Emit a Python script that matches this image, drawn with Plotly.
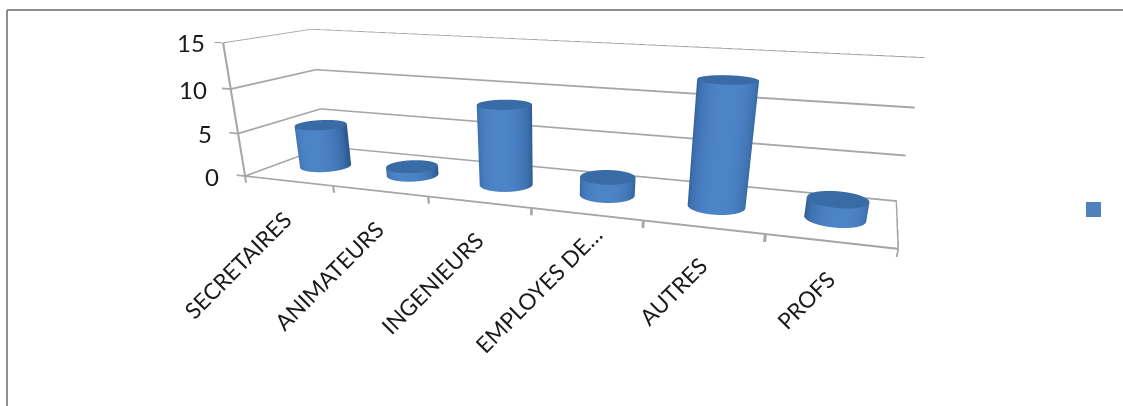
import numpy as np
import plotly.graph_objects as go

categories = ["SECRETAIRES", "ANIMATEURS", "INGENIEURS", "EMPLOYES DE…", "AUTRES", "PROFS"]
effectifs = [5, 1, 9, 2, 13, 2]
z_ticks = [0, 5, 10, 15]

GRID = "#a6a6a6"
BLUE_DARK, BLUE_LIGHT = "#2c5a90", "#4c84c8"
CAP_SHADE = 0.42
RADIUS_X, RADIUS_Y = 0.25, 0.19
DEPTH_CENTER = 0.46
FIG_W, FIG_H = 1123, 683

# Axis ranges leave a little room for the tick stubs outside the plot box.
x_range = [-0.15, 6.0]
y_range = [0.0, 1.0]
z_range = [-1.0, 15.0]

# Camera expressed for a unit-width box spanning x 0-6, y 0-1, z 0-15.
unit_eye = np.array([0.4246, -1.1898, 0.2484])
unit_center = np.array([-0.0174, 0.0726, -0.4062])
unit_up = (-0.2574, 0.7089, 1.0)
unit_aspect = np.array([1.0, 0.2261, 0.2057])
spans = np.array([6.0, 1.0, 15.0])
lo = np.array([x_range[0], y_range[0], z_range[0]])
hi = np.array([x_range[1], y_range[1], z_range[1]])
aspect = unit_aspect * (hi - lo) / spans
shift = ((lo + hi) / 2 / spans - 0.5) * unit_aspect
eye = unit_eye - shift
center = unit_center - shift

fig = go.Figure()
flat = dict(ambient=1.0, diffuse=0.0, specular=0.0, fresnel=0.0, roughness=1.0)


def stroke(start, end, offset):
    """Draw a thin flat strip between two points, widened along offset."""
    a, b, d = np.array(start, float), np.array(end, float), np.array(offset, float)
    pts = np.array([[a - d, b - d], [a + d, b + d]])
    fig.add_trace(go.Surface(
        x=pts[..., 0], y=pts[..., 1], z=pts[..., 2],
        surfacecolor=np.zeros((2, 2)), colorscale=[[0, GRID], [1, GRID]],
        showscale=False, lighting=flat, hoverinfo="skip"))


Z_W = (0, 0, 0.1)
X_W = (0.012, 0, 0)
# Gridlines on the left and back walls, with ticks on the value axis.
for z in z_ticks:
    stroke((-0.1, 0, z), (0, 0, z), Z_W)
    stroke((0, 0, z), (0, 1, z), Z_W)
    stroke((0, 1, z), (6, 1, z), Z_W)
# Value axis, floor edges and category ticks.
stroke((0, 0, 0), (0, 0, 15), X_W)
stroke((0, 0, 0), (6, 0, 0), Z_W)
stroke((6, 0, 0), (6, 1, 0), X_W)
for k in range(7):
    stroke((k, 0, -0.8), (k, 0, 0), X_W)

# One shaded cylinder per category.
theta = np.linspace(0, 2 * np.pi, 73)
radial = np.linspace(0, 1, 6)
colorscale = [[0, BLUE_DARK], [1, BLUE_LIGHT]]
for i, value in enumerate(effectifs):
    cx, cy = i + 0.5, DEPTH_CENTER
    T, H = np.meshgrid(theta, [0.0, float(value)])
    facing = np.clip(np.cos(T) * 0.2 - np.sin(T), 0, 1) ** 0.8
    fig.add_trace(go.Surface(
        x=cx + RADIUS_X * np.cos(T), y=cy + RADIUS_Y * np.sin(T), z=H,
        surfacecolor=facing, colorscale=colorscale, cmin=0, cmax=1,
        showscale=False, lighting=flat, hoverinfo="skip"))
    R, T2 = np.meshgrid(radial, theta)
    fig.add_trace(go.Surface(
        x=cx + RADIUS_X * R * np.cos(T2), y=cy + RADIUS_Y * R * np.sin(T2),
        z=np.full(R.shape, float(value)),
        surfacecolor=np.full(R.shape, CAP_SHADE), colorscale=colorscale,
        cmin=0, cmax=1, showscale=False, lighting=flat, hoverinfo="skip"))

# Value labels sit a little closer to the axis as it leans outward at the top.
value_label_gap = {0: -24, 5: -24, 10: -22, 15: -16}
annotations = [
    dict(x=0, y=0, z=z, text=str(z), showarrow=False, xanchor="right", yanchor="middle",
         xshift=value_label_gap[z], font=dict(family="Lato", size=24, color="#1a1a1a"))
    for z in z_ticks
] + [
    dict(x=i + 0.5, y=0, z=0, text=name, showarrow=False, textangle=-45,
         xanchor="right", yanchor="top",
         xshift=24 if name.endswith("…") else 12,
         yshift=-4 if name.endswith("…") else -22,
         font=dict(family="Lato", size=22.5, color="#1a1a1a"))
    for i, name in enumerate(categories)
]

hidden = dict(visible=False, showgrid=False, zeroline=False, showspikes=False, autorange=False)
fig.update_layout(
    width=FIG_W, height=FIG_H, autosize=False,
    margin=dict(l=0, r=0, t=0, b=0),
    paper_bgcolor="white", showlegend=False,
    scene=dict(
        domain=dict(x=[0, 1], y=[0, 1]),
        xaxis=dict(range=x_range, **hidden),
        yaxis=dict(range=y_range, **hidden),
        zaxis=dict(range=z_range, **hidden),
        aspectmode="manual",
        aspectratio=dict(x=aspect[0], y=aspect[1], z=aspect[2]),
        camera=dict(
            eye=dict(x=eye[0], y=eye[1], z=eye[2]),
            center=dict(x=center[0], y=center[1], z=center[2]),
            up=dict(x=unit_up[0], y=unit_up[1], z=unit_up[2]),
        ),
        annotations=annotations,
    ),
    shapes=[
        # Chart-area border and the legend swatch.
        dict(type="line", xref="paper", yref="paper", x0=7 / FIG_W, x1=7 / FIG_W,
             y0=0, y1=1 - 10 / FIG_H, line=dict(color="#8f8f8f", width=2)),
        dict(type="line", xref="paper", yref="paper", x0=7 / FIG_W, x1=1,
             y0=1 - 10 / FIG_H, y1=1 - 10 / FIG_H, line=dict(color="#8f8f8f", width=2)),
        dict(type="rect", xref="paper", yref="paper", x0=1086 / FIG_W, x1=1101 / FIG_W,
             y0=1 - 217 / FIG_H, y1=1 - 202 / FIG_H, fillcolor="#4f81bd", line=dict(width=0)),
    ],
)

fig.write_html("out.html", config=dict(displayModeBar=False),
               post_script="document.documentElement.style.overflow='hidden';document.body.style.overflow='hidden';")
